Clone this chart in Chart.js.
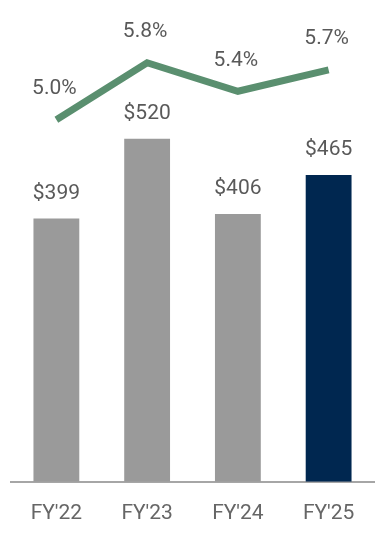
<!DOCTYPE html>
<html>
<head>
<meta charset="utf-8">
<script src="https://cdn.jsdelivr.net/npm/chart.js@4"></script>
<style>
  html, body { margin: 0; padding: 0; background: #fff; }
  #chart { display: block; }
</style>
</head>
<body>
<canvas id="chart" width="384" height="536"></canvas>
<script>
// DATA
const years = ["FY'22", "FY'23", "FY'24", "FY'25"];
const sales = [399, 520, 406, 465];
const margins = [5.0, 5.8, 5.4, 5.7];

const FONT = "Roboto, 'DejaVu Sans', sans-serif";

// VALUE LABELS ABOVE BARS AND POINTS
const valueLabels = {
  id: "valueLabels",
  afterDatasetsDraw(chart) {
    const ctx = chart.ctx;
    ctx.save();
    ctx.font = "400 21px " + FONT;
    ctx.fillStyle = "#595959";
    ctx.textAlign = "center";
    ctx.textBaseline = "middle";

    chart.getDatasetMeta(1).data.forEach((bar, i) => {
      ctx.fillText("$" + sales[i], bar.x, bar.y - 25);
    });
    chart.getDatasetMeta(0).data.forEach((pt, i) => {
      ctx.fillText(margins[i].toFixed(1) + "%", pt.x - 2, pt.y - 31);
    });
    ctx.restore();
  }
};

new Chart(document.getElementById("chart"), {
  data: {
    labels: years,
    datasets: [
      {
        type: "line",
        data: margins,
        yAxisID: "y2",
        borderColor: "#5a8f6f",
        borderWidth: 7,
        borderCapStyle: "butt",
        borderJoinStyle: "miter",
        pointRadius: 0,
        tension: 0,
        order: 0
      },
      {
        type: "bar",
        data: sales,
        yAxisID: "y",
        backgroundColor: sales.map((_, i) => i === sales.length - 1 ? "#002750" : "#9a9a9a"),
        categoryPercentage: 1,
        barPercentage: 0.505,
        order: 1
      }
    ]
  },
  options: {
    responsive: false,
    animation: false,
    layout: { padding: { left: 11, right: 10, top: 20, bottom: -9 } },
    plugins: {
      legend: { display: false },
      tooltip: { enabled: false }
    },
    scales: {
      x: {
        grid: { display: false, drawTicks: false },
        border: { display: true, color: "#a6a6a6", width: 2 },
        ticks: {
          color: "#666666",
          font: { family: FONT, size: 21 },
          padding: 19
        }
      },
      y: {
        display: false,
        min: 0,
        max: 700
      },
      y2: {
        display: false,
        min: -0.08,
        max: 6.4
      }
    }
  },
  plugins: [valueLabels]
});
</script>
</body>
</html>
